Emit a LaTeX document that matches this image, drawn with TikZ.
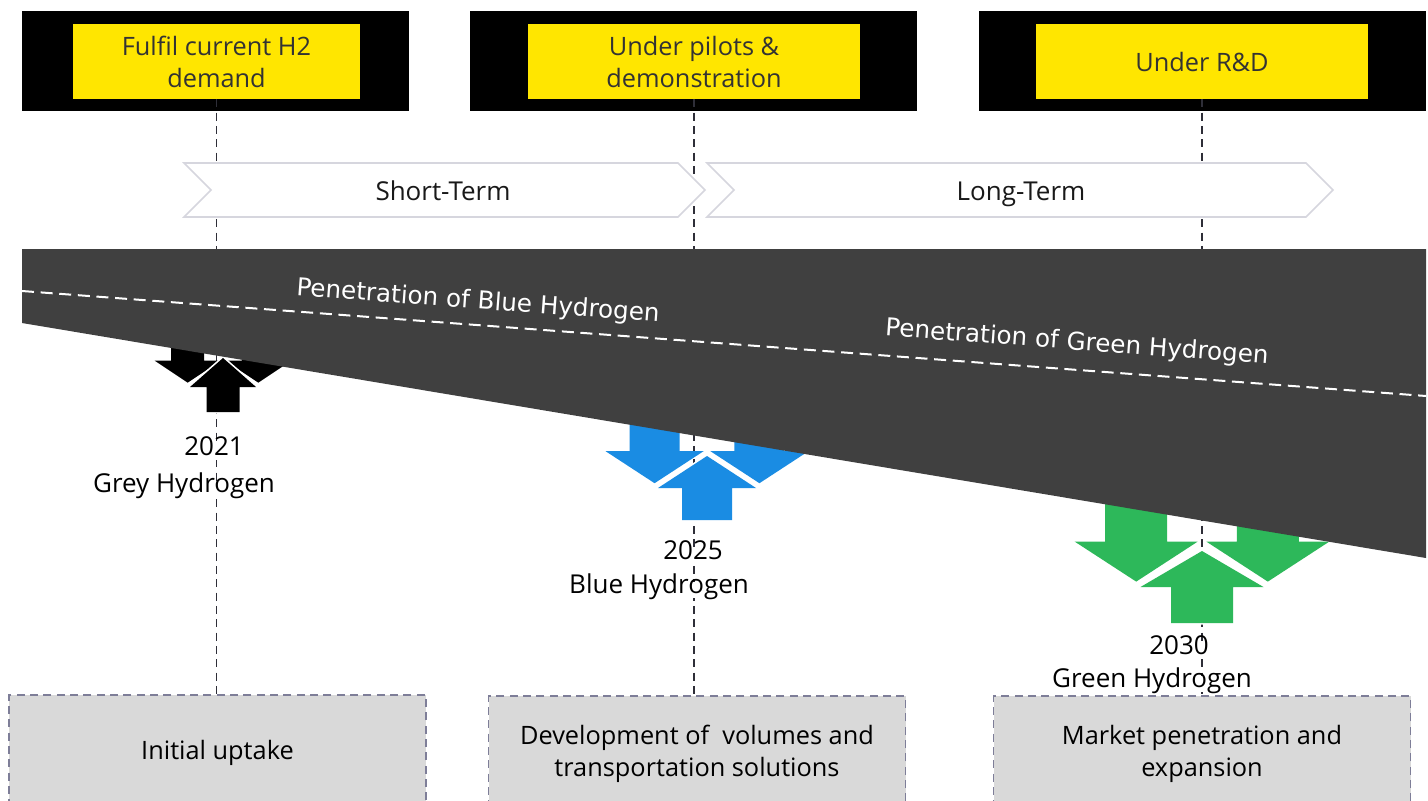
\documentclass[tikz,border=0pt]{standalone}
\usepackage{fontspec}
\setmainfont{Open Sans}
\newfontfamily\bandfont{DejaVu Sans}
\usetikzlibrary{positioning,calc}
\definecolor{eyyellow}{HTML}{FFE600}
\definecolor{bandgrey}{HTML}{404040}
\definecolor{blueh}{HTML}{1A8CE3}
\definecolor{greenh}{HTML}{2DB85A}
\definecolor{boxgrey}{HTML}{D9D9D9}
\definecolor{boxline}{HTML}{7E7E98}
\definecolor{chevline}{HTML}{D6D6DE}
\definecolor{guidegrey}{HTML}{2E2E38}
\tikzset{
  stagebar/.style={fill=black, minimum height=75pt, inner sep=0pt},
  stage/.style={
    fill=eyyellow,
    minimum height=56.25pt,
    inner sep=0pt,
    align=center,
    text=black!80,
    font=\fontsize{19}{24}\selectfont},
  guide/.style={draw=guidegrey, line width=1.1pt, dash pattern=on 6pt off 4pt},
  chevron/.style={draw=chevline, fill=white, line width=1.2pt},
  termtext/.style={font=\fontsize{19.5}{24}\selectfont, text=black!90,
    text height=0.72em, text depth=0.24em},
  bandtext/.style={font=\bandfont\fontsize{18.5}{22}\selectfont, text=white, rotate=-4.2},
  yeartext/.style={fill=white, inner sep=1pt, font=\fontsize{19.5}{24}\selectfont,
    text height=0.72em, text depth=0.24em},
  phase/.style={
    draw=boxline, fill=boxgrey,
    line width=1.2pt, dash pattern=on 6pt off 4pt,
    minimum width=312.75pt, minimum height=86.25pt,
    align=center,
    font=\fontsize{19}{24}\selectfont},
}
% three arrows: two coming down, one going up
\newcommand{\arrowtrio}[8]{%
  \pgfmathsetmacro{\ybase}{#3+#5}
  \pgfmathsetmacro{\ytip}{\ybase-0.15*#5}
  \pgfmathsetmacro{\yhead}{\ytip-#8}
  \pgfmathsetmacro{\ytop}{\yhead-90}
  \pgfmathsetmacro{\xl}{#2-1.07*#4}
  \pgfmathsetmacro{\xr}{#2+1.07*#4}
  \foreach \xc in {\xl,\xr}
    \fill[#1] ({\xc-#6},\ytop) -- ({\xc-#6},\yhead) -- ({\xc-#4},\yhead) -- (\xc,\ytip)
      -- ({\xc+#4},\yhead) -- ({\xc+#6},\yhead) -- ({\xc+#6},\ytop) -- cycle;
  \fill[#1, preaction={draw=white, line width=2.5pt}] (#2,#3) -- ({#2+#4},\ybase)
    -- ({#2+#6},\ybase) -- ({#2+#6},{\ybase+#7}) -- ({#2-#6},{\ybase+#7})
    -- ({#2-#6},\ybase) -- ({#2-#4},\ybase) -- cycle;
}

\begin{document}
\begin{tikzpicture}[x=0.75pt, y=-0.75pt]
  \useasboundingbox (0,0) rectangle (1428,800);
  \clip (0,0) rectangle (1428,800);

  % top stages
  \node[stagebar, minimum width=290.25pt] (bar1) at (215.5,61) {};
  \node[stagebar, minimum width=335.25pt] (bar2) at (693.5,61) {};
  \node[stagebar, minimum width=335.25pt] (bar3) at (1202.5,61) {};
  \node[stage, minimum width=215.25pt] (stage1) at (216.5,61.5) {Fulfil current H2\\demand};
  \node[stage, minimum width=249pt] (stage2) at (694,61.5) {Under pilots \&\\demonstration};
  \node[stage, minimum width=249pt] (stage3) at (1202,61.5) {Under R\&D};

  % bottom phases
  \node[phase] (phase1) at (217.5,752.5) {Initial uptake};
  \node[phase] (phase2) at (697,753.5) {Development of~ volumes and\\transportation solutions};
  \node[phase] (phase3) at (1202,753.5) {Market penetration and\\expansion};

  \foreach \i in {1,2,3}
    \draw[guide] (stage\i.south) -- (stage\i.south |- phase\i.north);

  % terms
  \draw[chevron] (184,163) -- (678,163) -- (705,190) -- (678,217) -- (184,217) -- (211,190) -- cycle;
  \draw[chevron] (707,163) -- (1306,163) -- (1333,190) -- (1306,217) -- (707,217) -- (734,190) -- cycle;
  \node[termtext] (shortterm) at (443,197) {Short-Term};
  \node[termtext] (longterm) at (1021,197) {Long-Term};

  % arrows
  \arrowtrio{black}{223}{358}{33}{29}{16.5}{25}{22}
  \arrowtrio{blueh}{707}{456}{49}{32}{25}{32}{32}
  \arrowtrio{greenh}{1202}{551}{61.5}{36}{31}{36}{40}

  % penetration band
  \fill[bandgrey] (22,249) -- (1426,249) -- (1426,558) -- (22,323) -- cycle;
  \draw[white, line width=1.5pt, dash pattern=on 9pt off 5pt] (22,291) -- (1426,396);
  \node[bandtext] (bluepen) at (478,302) {Penetration of Blue Hydrogen};
  \node[bandtext] (greenpen) at (1077,343) {Penetration of Green Hydrogen};

  % years
  \node[yeartext] (y2021) at (214,452) {2021};
  \node[yeartext] (grey) at (184,489) {Grey Hydrogen};
  \node[yeartext] (y2025) at (693,556) {2025};
  \node[yeartext] (blue) at (659,590) {Blue Hydrogen};
  \node[yeartext] (y2030) at (1179,651) {2030};
  \node[yeartext] (green) at (1152,684) {Green Hydrogen};
\end{tikzpicture}
\end{document}
